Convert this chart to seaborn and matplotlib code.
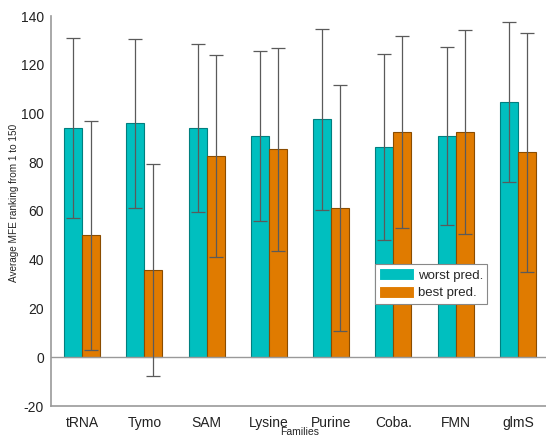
import numpy as np
import pandas as pd
import matplotlib
matplotlib.use("Agg")
import matplotlib.pyplot as plt
import seaborn as sns

families = ["tRNA", "Tymo", "SAM", "Lysine", "Purine", "Coba.", "FMN", "glmS"]
worst_mean = [94.0, 96.0, 94.0, 90.7, 97.6, 86.3, 90.7, 104.7]
worst_err = [37.0, 34.7, 34.5, 34.8, 37.0, 38.0, 36.4, 33.0]
best_mean = [50.0, 35.7, 82.6, 85.3, 61.1, 92.4, 92.4, 84.1]
best_err = [47.0, 43.4, 41.5, 41.7, 50.5, 39.4, 41.8, 49.0]
series = ["worst pred.", "best pred."]
yticks = [-20, 0, 20, 40, 60, 80, 100, 120, 140]

teal = "#00BFBF"
orange = "#E07B00"

df = pd.DataFrame({
    "family": families * 2,
    "pred": [series[0]] * len(families) + [series[1]] * len(families),
    "rank": worst_mean + best_mean,
    "err": worst_err + best_err,
})

sns.set_theme(style="white")
plt.rcParams["font.family"] = ["Liberation Sans", "DejaVu Sans"]
plt.rcParams["axes.unicode_minus"] = False

fig = plt.figure(figsize=(5.46, 4.38), dpi=100)
ax = fig.add_axes([51 / 546, 1 - 406 / 438, (549 - 51) / 546, 390 / 438])

sns.barplot(data=df, x="family", y="rank", hue="pred", order=families,
            hue_order=series, palette=[teal, orange], width=0.58, gap=0,
            errorbar=None, ax=ax, saturation=1, linewidth=0.8)

# darker outlines per series, then error bars centred on each bar
edge = {series[0]: "#007F7F", series[1]: "#8A4C00"}
for cont, name in zip(ax.containers, series):
    sub = df[df["pred"] == name].set_index("family").loc[families]
    xs = [p.get_x() + p.get_width() / 2 for p in cont.patches]
    for p in cont.patches:
        p.set_edgecolor(edge[name])
    ax.errorbar(xs, sub["rank"].values, yerr=sub["err"].values, fmt="none",
                ecolor="#5a5a5a", elinewidth=0.9, capsize=5, capthick=0.9,
                zorder=3)

ax.axhline(0, color="#999999", lw=1.0, zorder=1)
ax.set_xlim(-0.5, 7.5)
ax.set_ylim(-20, 140)
ax.set_yticks(yticks)
ax.tick_params(axis="both", length=0, labelsize=10, colors="#222222")
ax.tick_params(axis="y", pad=5)
ax.tick_params(axis="x", pad=7)

for s in ["top", "right"]:
    ax.spines[s].set_visible(False)
for s in ["left", "bottom"]:
    ax.spines[s].set_color("#999999")
    ax.spines[s].set_linewidth(1.2)

ax.set_xlabel("Families", fontsize=7.5)
ax.xaxis.set_label_coords(0.5, -0.055)
ax.set_ylabel("Average MFE ranking from 1 to 150", fontsize=7.2)
ax.yaxis.set_label_coords(-0.064, 0.52)

leg = ax.legend(loc="lower left", bbox_to_anchor=(0.65, 0.262), fontsize=9.5,
                frameon=True, fancybox=False, edgecolor="#888888",
                framealpha=1.0, handlelength=2.6, handleheight=1.0,
                handletextpad=0.3, borderpad=0.35, labelspacing=0.3,
                borderaxespad=0)
leg.get_frame().set_linewidth(0.8)

fig.savefig("out.png", dpi=100)
